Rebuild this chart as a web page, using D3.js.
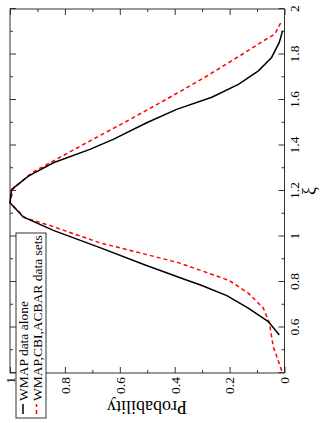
<!DOCTYPE html>
<html><head><meta charset="utf-8">
<script src="https://cdn.jsdelivr.net/npm/d3@7"></script>
<style>html,body{margin:0;padding:0;background:#fff;}svg{display:block;}</style>
</head><body>
<svg id="chart" width="327" height="423"></svg>
<script>
// xi values and probabilities
const wmapXi   = [0.567,0.626,0.685,0.74,0.788,0.81,0.876,0.95,1.027,1.086,1.148,1.207,1.265,1.324,1.383,1.427,1.5,1.559,1.612,1.669,1.728,1.787,1.853,1.904];
const wmapProb = [0.019,0.059,0.132,0.21,0.308,0.36,0.51,0.67,0.842,0.952,1.0,0.994,0.933,0.842,0.709,0.624,0.502,0.393,0.265,0.168,0.095,0.047,0.019,0.007];
const allXi    = [0.41,0.516,0.619,0.685,0.751,0.806,0.883,0.928,0.972,1.048,1.082,1.148,1.21,1.28,1.34,1.4,1.5,1.6,1.7,1.8,1.85,1.89,1.948];
const allProb  = [0.01,0.041,0.055,0.077,0.132,0.2,0.381,0.526,0.672,0.854,0.945,1.0,0.988,0.921,0.83,0.74,0.585,0.435,0.29,0.155,0.09,0.035,0.01];
const seriesNames = ["WMAP data alone","WMAP,CBI,ACBAR data sets"];
const xiTicks = [0.4,0.6,0.8,1,1.2,1.4,1.6,1.8,2];
const xiMinor = [0.5,0.7,0.9,1.1,1.3,1.5,1.7,1.9];
const probTicks = [0,0.2,0.4,0.6,0.8,1];
const probMinor = [0.1,0.3,0.5,0.7,0.9];

const svg = d3.select("#chart");
const g = svg.append("g").attr("transform","translate(0,423) rotate(-90)");
const x = d3.scaleLinear().domain([0.4,2]).range([50,414]);
const y = d3.scaleLinear().domain([0,1]).range([284.5,10]);
const font = "'Liberation Serif','Times New Roman',serif";
const fmt = v => String(+v.toFixed(1));
const frameColor = "#333";

function styleAxis(sel){
  sel.select(".domain").remove();
  sel.selectAll("line").attr("stroke",frameColor);
  sel.selectAll("text").attr("font-family",font).attr("font-size",13.5).attr("fill","#000");
}
// bottom
g.append("g").attr("transform",`translate(0,${y(0)})`)
  .call(d3.axisBottom(x).tickValues(xiTicks).tickSize(-6).tickPadding(5).tickFormat(d => d===0.4 ? "" : fmt(d))).call(styleAxis);
g.append("g").attr("transform",`translate(0,${y(0)})`)
  .call(d3.axisBottom(x).tickValues(xiMinor).tickSize(-3).tickFormat("")).call(styleAxis);
// top
g.append("g").attr("transform",`translate(0,${y(1)})`)
  .call(d3.axisTop(x).tickValues(xiTicks).tickSize(-6).tickFormat("")).call(styleAxis);
g.append("g").attr("transform",`translate(0,${y(1)})`)
  .call(d3.axisTop(x).tickValues(xiMinor).tickSize(-3).tickFormat("")).call(styleAxis);
// left
g.append("g").attr("transform",`translate(${x(0.4)},0)`)
  .call(d3.axisLeft(y).tickValues(probTicks).tickSize(-6).tickPadding(4).tickFormat(fmt)).call(styleAxis);
g.append("g").attr("transform",`translate(${x(0.4)},0)`)
  .call(d3.axisLeft(y).tickValues(probMinor).tickSize(-3).tickFormat("")).call(styleAxis);
// right
g.append("g").attr("transform",`translate(${x(2)},0)`)
  .call(d3.axisRight(y).tickValues(probTicks).tickSize(-6).tickFormat("")).call(styleAxis);
g.append("g").attr("transform",`translate(${x(2)},0)`)
  .call(d3.axisRight(y).tickValues(probMinor).tickSize(-3).tickFormat("")).call(styleAxis);

// frame
g.append("rect").attr("x",x(0.4)).attr("y",y(1)).attr("width",x(2)-x(0.4)).attr("height",y(0)-y(1))
  .attr("fill","none").attr("stroke",frameColor).attr("stroke-width",1);

const line = d3.line().x(d=>x(d[0])).y(d=>y(d[1]));
g.append("path").datum(d3.zip(allXi,allProb)).attr("d",line)
  .attr("fill","none").attr("stroke","#ff0000").attr("stroke-width",1.5).attr("stroke-dasharray","4,3");
g.append("path").datum(d3.zip(wmapXi,wmapProb)).attr("d",line)
  .attr("fill","none").attr("stroke","#000").attr("stroke-width",1.5);

// axis labels
g.append("text").attr("transform","translate(22,147) rotate(-90)").attr("text-anchor","middle")
  .attr("font-family",font).attr("font-size",18).text("Probability");
g.append("text").attr("x",(x(0.4)+x(2))/2).attr("y",315).attr("text-anchor","middle")
  .attr("font-family",font).attr("font-size",18).text("ξ");

// legend
const lg = g.append("g");
lg.append("rect").attr("x",5).attr("y",16).attr("width",185).attr("height",30)
  .attr("fill","#fff").attr("stroke",frameColor).attr("stroke-width",1);
const rows = [{c:"#000",d:null,y:23,ty:27.5},{c:"#ff0000",d:"4,3",y:36.5,ty:41.5}];
rows.forEach((r,i)=>{
  lg.append("line").attr("x1",9).attr("x2",19).attr("y1",r.y).attr("y2",r.y)
    .attr("stroke",r.c).attr("stroke-width",1.5).attr("stroke-dasharray",r.d);
  lg.append("text").attr("x",22).attr("y",r.ty).attr("font-family",font).attr("font-size",13.5)
    .text(seriesNames[i]);
});
</script>
</body></html>
